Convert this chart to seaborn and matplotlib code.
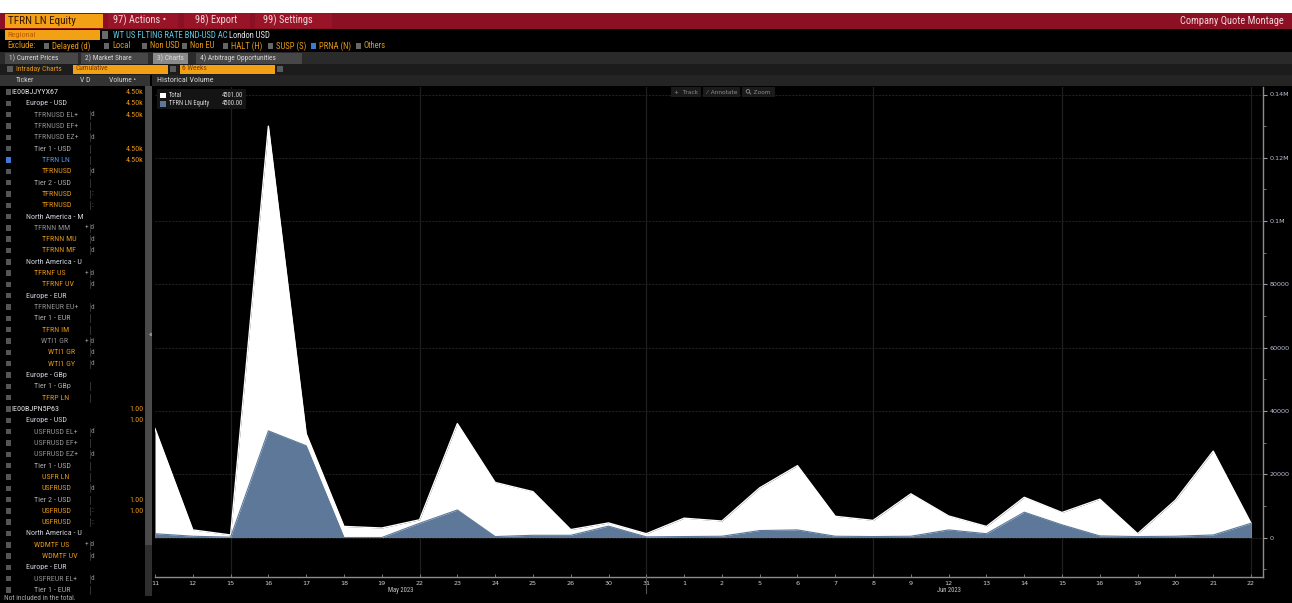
import numpy as np
import pandas as pd
import matplotlib
matplotlib.use("Agg")
import matplotlib.pyplot as plt
from matplotlib.patches import Rectangle, Circle
from matplotlib import font_manager
import seaborn as sns


# ---- chart data (daily volume, trading days 11 May - 22 Jun 2023)
day_labels = ["11", "12", "15", "16", "17", "18", "19", "22", "23", "24", "25", "26", "30", "31",
              "1", "2", "5", "6", "7", "8", "9", "12", "13", "14", "15", "16", "19", "20", "21", "22"]
month_of_day = ["May"] * 14 + ["Jun"] * 16
total_volume = [34400, 2400, 800, 130000, 32800, 3500, 3000, 5600, 36000, 17400, 14500, 2500, 4600, 1200,
                6100, 5200, 15700, 22700, 6700, 5400, 13800, 6800, 3500, 12700, 7900, 12100, 1200, 11800, 27300, 4501]
tfrn_volume = [1200, 400, 100, 33700, 29000, 0, 0, 4500, 8700, 300, 700, 700, 3600, 200,
               300, 400, 2200, 2400, 400, 300, 400, 2400, 1200, 8000, 4000, 500, 300, 400, 800, 4500]
y_ticks = [0, 20000, 40000, 60000, 80000, 100000, 120000, 140000]
y_tick_labels = ["0", "20000", "40000", "60000", "80000", "0.1M", "0.12M", "0.14M"]
grid_days = [2, 7, 13, 19, 24, 29]   # positions of the weekly vertical grid lines
month_labels = ["May 2023", "Jun 2023"]

# ---- left panel (ticker tree)
row_text = ["IE00BJJYYX67", "Europe - USD", "TFRNUSD EL+", "TFRNUSD EF+", "TFRNUSD EZ+", "Tier 1 - USD",
            "TFRN LN", "TFRNUSD", "Tier 2 - USD", "TFRNUSD", "TFRNUSD", "North America - M", "TFRNN MM",
            "TFRNN MU", "TFRNN MF", "North America - U", "TFRNF US", "TFRNF UV", "Europe - EUR",
            "TFRNEUR EU+", "Tier 1 - EUR", "TFRN IM", "WTI1 GR", "WTI1 GR", "WTI1 GY", "Europe - GBp",
            "Tier 1 - GBp", "TFRP LN", "IE00BJPN5P63", "Europe - USD", "USFRUSD EL+", "USFRUSD EF+",
            "USFRUSD EZ+", "Tier 1 - USD", "USFR LN", "USFRUSD", "Tier 2 - USD", "USFRUSD", "USFRUSD",
            "North America - U", "WDMTF US", "WDMTF UV", "Europe - EUR", "USFREUR EL+", "Tier 1 - EUR"]
row_kind = ["id", "reg", "sub", "sub", "sub", "tier", "sel", "or", "tier", "or", "or", "reg", "sub",
            "or", "or", "reg", "or2", "or", "reg", "sub", "tier", "or", "sub3", "or3", "or3", "reg",
            "tier", "or", "id", "reg", "sub", "sub", "sub", "tier", "or", "or", "tier", "or", "or",
            "reg", "or2", "or", "reg", "sub", "tier"]
row_flag = ["", "", "d", "", "d", "", "", "d", "", ":", ":", "", "+ d", "d", "d", "", "+ d", "d", "",
            "d", "", "", "+ d", "d", "d", "", "", "", "", "", "d", "", "d", "", "", "d", "", ":", ":",
            "", "+ d", "d", "", "d", ""]
row_volume = ["4.50k", "4.50k", "4.50k", "", "", "4.50k", "4.50k", "", "", "", "", "", "", "", "", "",
              "", "", "", "", "", "", "", "", "", "", "", "", "1.00", "1.00", "", "", "", "", "", "",
              "1.00", "1.00", "", "", "", "", "", "", ""]

W, H = 1292, 603
ORANGE = "#f2a114"
TXT_OR = "#e39516"
RED = "#8c1023"
BLUE = "#5d7899"

names = {f.name for f in font_manager.fontManager.ttflist}
FONT = "DejaVu Sans"
for cand in ["Liberation Sans Narrow", "Roboto Condensed", "Liberation Sans"]:
    if cand in names:
        FONT = cand
        break

df = pd.DataFrame({"pos": np.arange(len(day_labels)), "day": day_labels, "month": month_of_day,
                   "Total": total_volume, "TFRN LN Equity": tfrn_volume})

fig = plt.figure(figsize=(W / 100, H / 100), dpi=100)
fig.patch.set_facecolor("black")


def pixel_axes(z):
    a = fig.add_axes([0, 0, 1, 1])
    a.set_xlim(0, W)
    a.set_ylim(H, 0)
    a.axis("off")
    a.set_zorder(z)
    a.patch.set_alpha(0)
    return a


bg = pixel_axes(1)
over = pixel_axes(5)   # overlays drawn on top of the chart (legend, toolbar)


def box(x0, y0, x1, y1, color, z=1, a=None):
    (a or bg).add_patch(Rectangle((x0, y0), x1 - x0, y1 - y0, color=color, lw=0, zorder=z))


def txt(x, y, s, color, size=6, ha="left", a=None, family=None):
    (a or bg).text(x, y, s, color=color, fontsize=size, ha=ha, va="center",
                   family=family or FONT, zorder=10)


# top white strip + red toolbar
box(0, 0, W, 12.5, "white")
box(0, 12.5, W, 28.5, RED)
box(5, 13.5, 103, 27.5, ORANGE, 2)
txt(8, 20.5, "TFRN LN Equity", "#3a1600", 8)
for x0, x1 in [(108, 178), (184, 250), (255, 332)]:
    box(x0, 13, x1, 28, "#9a1427", 2)
txt(113, 20.5, "97) Actions \u2022", "#f3d6da", 7.5)
txt(195, 20.5, "98) Export", "#f3d6da", 7.5)
txt(263, 20.5, "99) Settings", "#f3d6da", 7.5)
txt(1284, 20.5, "Company Quote Montage", "#f3d6da", 7.5, ha="right")

# row 2
box(5, 30, 100, 40, ORANGE, 2)
txt(7, 35, "Regional", "#c25a00", 6)
box(102, 31, 108, 39, "#6a6a6a", 2)
txt(113, 35, "WT US FLTING RATE BND-USD AC", "#63c6dc", 6.2)
txt(229, 35, "London USD", "#dfdfdf", 6.2)

# row 3 - exclude filters
txt(7, 46, "Exclude:", TXT_OR, 6.2)
excl = [(44, "Delayed (d)"), (104, "Local"), (142, "Non USD"), (182, "Non EU"), (223, "HALT (H)"),
        (268, "SUSP (S)"), (311, "PRNA (N)"), (356, "Others")]
for x, s in excl:
    box(x, 43, x + 5, 49, "#3d7ad6" if s.startswith("PRNA") else "#666666", 2)
    txt(x + 8, 46, s, TXT_OR, 6.2)

# row 4 - tabs
box(0, 52, W, 63.5, "#2a2a2a")
for x0, x1, s, c in [(5, 78, "1) Current Prices", "#474747"), (81, 148, "2) Market Share", "#474747"),
                     (153, 188, "3) Charts", "#8a8a8a"), (196, 302, "4) Arbitrage Opportunities", "#474747")]:
    box(x0, 53, x1, 63.5, c, 2)
    txt(x0 + 4, 58.3, s, "#d8d8d8", 5.3)

# row 5
box(0, 64, W, 74.5, "#1c1c1c")
box(7, 66, 13, 72, "#5a5a5a", 2)
txt(16, 69, "Intraday Charts", TXT_OR, 5.5)
box(73, 65, 168, 73.5, ORANGE, 2)
txt(75, 69, "Cumulative", "#7a3a00", 5.3)
box(170, 66, 176, 72, "#5a5a5a", 2)
box(180, 65, 275, 73.5, ORANGE, 2)
txt(182, 69, "6 Weeks", "#7a3a00", 5.3)
box(277, 66, 283, 72, "#5a5a5a", 2)

# row 6 - headers
box(0, 75, 150, 86, "#333333")
box(152, 75, W, 86, "#242424")
txt(16, 80.5, "Ticker", "#d0d0d0", 5.5)
txt(80, 80.5, "V D", "#d0d0d0", 5.5)
txt(109, 80.5, "Volume \u2022", "#d0d0d0", 5.5)
txt(157, 80.5, "Historical Volume", "#d8d8d8", 5.8)

# left panel ticker tree
indent = {"id": 11, "reg": 26, "sub": 34, "tier": 34, "sel": 42, "or": 42, "or2": 34, "sub3": 41, "or3": 48}
colors = {"id": "#e8e8e8", "reg": "#cfd2da", "sub": "#8f8f8f", "tier": "#a9a9a9", "sel": "#4f95e8",
          "or": TXT_OR, "or2": TXT_OR, "sub3": "#8f8f8f", "or3": TXT_OR}
for i, (s, k, f, v) in enumerate(zip(row_text, row_kind, row_flag, row_volume)):
    y = 92 + i * 11.32
    box(6, y - 2.7, 11, y + 2.7, "#3d7ad6" if k == "sel" else "#555555", 2)
    txt(indent[k], y, s, colors[k], 5.8)
    if k not in ("id", "reg"):
        bg.plot([89.5, 89.5], [y - 4, y + 4], color="#3a3a3a", lw=0.6, zorder=3)
    if f:
        txt(85 if f.startswith("+") else 91, y, f, "#8a8a8a", 5.3)
    if v:
        txt(143, y, v, TXT_OR, 5.8, ha="right")

# scrollbar
box(145, 86, 151.5, 596, "#4a4a4a")
box(145, 545, 151.5, 596, "#2e2e2e", 2)
txt(149, 335, "\u00ab", "#cccccc", 6)
txt(4, 599, "Not included in the total.", "#a8a8a8", 5.3)

# chart panel background
box(152, 86, W, H, "black")

# ---- main chart
x0, x1 = 155, 1263
yb, yt = 577, 87
ax = fig.add_axes([x0 / W, 1 - yb / H, (x1 - x0) / W, (yb - yt) / H])
ax.set_facecolor("black")
ax.set_zorder(3)
ax.patch.set_alpha(0)

px_per_day = (1251 - 155) / 29
val_per_px = 140000 / (537.5 - 94.5)
ax.set_xlim(0, (x1 - x0) / px_per_day)
ax.set_ylim(-(yb - 537.5) * val_per_px, (537.5 - yt) * val_per_px)

for yv in y_ticks:
    ax.axhline(yv, color="#1f1f1f", lw=0.8, ls=(0, (2, 1)), zorder=0)
for gx in grid_days:
    ax.axvline(gx, color="#1f1f1f", lw=0.9, zorder=0)

ax.fill_between(df["pos"], 0, df["Total"], color="white", lw=0, zorder=2)
sns.lineplot(data=df, x="pos", y="Total", color="white", lw=1, ax=ax, zorder=2)
ax.fill_between(df["pos"], 0, df["TFRN LN Equity"], color=BLUE, lw=0, zorder=3)
sns.lineplot(data=df, x="pos", y="TFRN LN Equity", color=BLUE, lw=0.8, ax=ax, zorder=3)

ax.yaxis.tick_right()
ax.set_yticks(y_ticks)
ax.set_yticklabels(y_tick_labels)
ax.set_yticks(np.arange(-10000, 141000, 10000), minor=True)
ax.tick_params(axis="y", which="major", colors="#9a9a9a", labelcolor="#b9c3d6", length=3, width=0.8,
               labelsize=4.6, pad=1.5)
ax.tick_params(axis="y", which="minor", colors="#8a8a8a", length=2, width=0.6)
ax.set_xticks(df["pos"])
ax.set_xticklabels(df["day"])
ax.tick_params(axis="x", colors="#8a8a8a", labelcolor="#d0d0d0", direction="in", length=2,
               width=0.6, labelsize=4.6, pad=3)
ax.set_xlabel("")
ax.set_ylabel("")
for side in ["top", "left"]:
    ax.spines[side].set_visible(False)
for side in ["right", "bottom"]:
    ax.spines[side].set_color("#8c8c8c")
    ax.spines[side].set_linewidth(1)

# month labels and separator
for m, lab in zip(["May", "Jun"], month_labels):
    mpos = df.loc[df["month"] == m, "pos"]
    xm = mpos.mean() if m == "May" else mpos.iloc[7]
    txt(x0 + xm * px_per_day, 590, lab, "#c8c8c8", 4.8, ha="center", a=over)
sep = df.loc[df["month"] == "May", "pos"].max()
over.plot([x0 + sep * px_per_day] * 2, [577, 593], color="#555555", lw=0.8, zorder=6)

# legend box (on top of the grid lines)
box(157, 89, 246, 109, "#141414", 6, a=over)
box(160, 92.5, 166, 98, "white", 7, a=over)
box(160, 101, 166, 106.5, BLUE, 7, a=over)
for yy, name in [(95.3, "Total"), (103.8, "TFRN LN Equity")]:
    txt(169, yy, name, "#d8d8d8", 4.8, a=over)
    txt(243, yy, f"{df[name].iloc[-1]:.2f}", "#d8d8d8", 4.8, ha="right", a=over)

# toolbar (Track / Annotate / Zoom)
for bx0, bx1, s in [(671, 701, "+  Track"), (703, 740, "\u2044  Annotate"), (742, 775, "    Zoom")]:
    box(bx0, 87, bx1, 97, "#1b1b1b", 6, a=over)
    txt((bx0 + bx1) / 2, 92, s, "#8a8a8a", 4.2, ha="center", a=over, family=["DejaVu Sans"])
# magnifier glyph drawn as a shape
over.add_patch(Circle((748, 91.3), 1.8, fill=False, ec="#8a8a8a", lw=0.6, zorder=8))
over.plot([749.3, 750.8], [92.6, 94.1], color="#8a8a8a", lw=0.6, zorder=8)

fig.savefig("out.png", dpi=100, facecolor="black")
